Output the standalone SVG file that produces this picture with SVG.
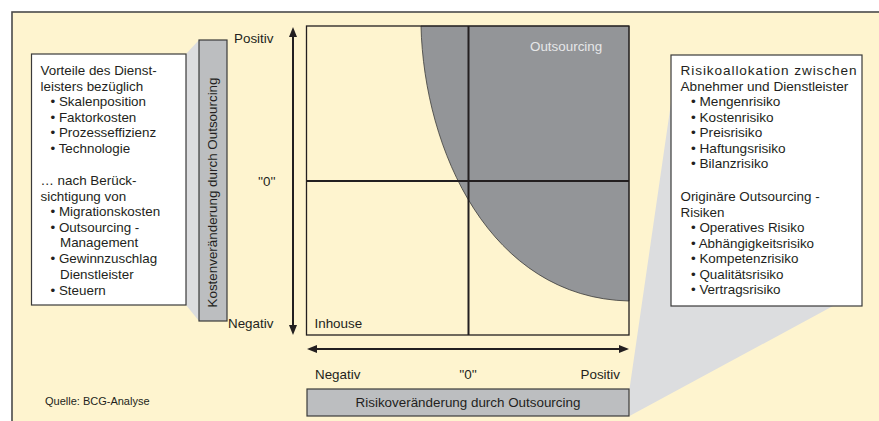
<svg xmlns="http://www.w3.org/2000/svg" width="879" height="421" viewBox="0 0 879 421">
<defs>
<style>
text{font-family:"Liberation Sans",Arial,sans-serif;font-size:13.4px;fill:#231f20}
.box{fill:#fff;stroke:#3a3a3a;stroke-width:1.2}
.bar{fill:#bcbec0;stroke:#3a3a3a;stroke-width:1.2}
.proj{fill:#dcdddf}
.ax{stroke:#231f20;stroke-width:2;fill:none}
.grid{stroke:#231f20;stroke-width:2;fill:none}
.small{font-size:11px}
.mid{text-anchor:middle}
.end{text-anchor:end}
.rb{font-size:13.6px}
</style>
<marker id="ah" viewBox="0 0 10 8" refX="2" refY="4" markerWidth="10" markerHeight="8" orient="auto-start-reverse" markerUnits="userSpaceOnUse"><path d="M0,0 L10,4 L0,8 z" fill="#231f20"/></marker>
</defs>
<rect x="0" y="0" width="879" height="421" fill="#fff"/>
<rect id="frame" x="12" y="12" width="880" height="420" fill="#fef4cf" stroke="#4a4a4a" stroke-width="1.6"/>

<g id="chart">
<path d="M421,26 C424,150 490,298 629,301 L629,26 Z" fill="#939598" stroke="#3a3a3a" stroke-width="0.8"/>
<line class="grid" x1="306.5" y1="181" x2="629" y2="181"/>
<line class="grid" x1="468.5" y1="26" x2="468.5" y2="335"/>
<rect x="306.5" y="26" width="322.5" height="309" fill="none" stroke="#231f20" stroke-width="1.3"/>
<text x="530" y="51" style="fill:#e6e7e8">Outsourcing</text>
<text x="314.5" y="328">Inhouse</text>
</g>

<g id="connectors">
<line class="ax" x1="293" y1="35" x2="293" y2="327" marker-start="url(#ah)" marker-end="url(#ah)"/>
<line class="ax" x1="315" y1="349" x2="621" y2="349" marker-start="url(#ah)" marker-end="url(#ah)"/>
</g>

<g id="y-labels">
<text x="234" y="43">Positiv</text>
<text x="258" y="186">''0''</text>
<text x="228" y="328">Negativ</text>
</g>
<g id="x-labels">
<text x="315" y="379">Negativ</text>
<text x="468" y="379" class="mid">''0''</text>
<text x="620" y="379" class="end">Positiv</text>
</g>

<g id="left-note">
<polygon class="proj" points="186,54 199,40 199,321 186,305"/>
<rect class="box" x="31.5" y="54" width="154.5" height="251"/>
<text x="40.5" y="75">Vorteile des Dienst-</text>
<text x="40.5" y="90.5">leisters  bezüglich</text>
<text x="50.5" y="106">• Skalenposition</text>
<text x="50.5" y="121.5">• Faktorkosten</text>
<text x="50.5" y="137">• Prozesseffizienz</text>
<text x="50.5" y="152.5">• Technologie</text>
<text x="40.5" y="185">… nach Berück-</text>
<text x="40.5" y="200.5">sichtigung  von</text>
<text x="50.5" y="216">• Migrationskosten</text>
<text x="50.5" y="231.5">• Outsourcing -</text>
<text x="60" y="247">Management</text>
<text x="50.5" y="263">• Gewinnzuschlag</text>
<text x="60" y="278.5">Dienstleister</text>
<text x="50.5" y="294.5">• Steuern</text>
</g>

<g id="y-axis-bar">
<rect class="bar" x="199" y="40" width="28" height="281"/>
<text class="mid" transform="translate(217,192.5) rotate(-90)">Kostenveränderung durch Outsourcing</text>
</g>

<g id="right-note">
<polygon class="proj" points="671,103 629.5,389 629.5,416 833,306 671,306"/>
<rect class="box" x="671" y="55" width="191" height="251"/>
<text class="rb" x="680.5" y="75" textLength="176" lengthAdjust="spacing">Risikoallokation zwischen</text>
<text class="rb" x="680.5" y="90.5">Abnehmer und  Dienstleister</text>
<text class="rb" x="691" y="106">• Mengenrisiko</text>
<text class="rb" x="691" y="121.5">• Kostenrisiko</text>
<text class="rb" x="691" y="137">• Preisrisiko</text>
<text class="rb" x="691" y="152.5">• Haftungsrisiko</text>
<text class="rb" x="691" y="168">• Bilanzrisiko</text>
<text x="680.5" y="201">Originäre  Outsourcing -</text>
<text x="680.5" y="216.5">Risiken</text>
<text x="691" y="232">• Operatives Risiko</text>
<text x="691" y="247.5">• Abhängigkeitsrisiko</text>
<text x="691" y="263">• Kompetenzrisiko</text>
<text x="691" y="278.5">• Qualitätsrisiko</text>
<text x="691" y="294">• Vertragsrisiko</text>
</g>

<g id="x-axis-bar">
<rect class="bar" x="307" y="389" width="322" height="27"/>
<text class="mid" x="468" y="407">Risikoveränderung durch Outsourcing</text>
</g>

<text class="small" x="45" y="405">Quelle: BCG-Analyse</text>
</svg>
